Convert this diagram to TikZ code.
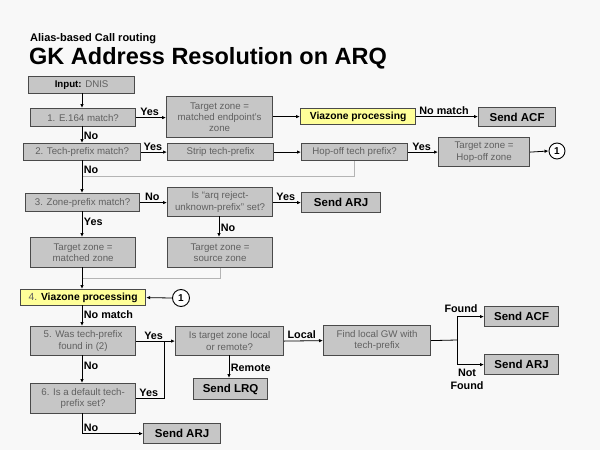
\documentclass[tikz,border=0pt]{standalone}
\usepackage{fontspec}
\setmainfont{Liberation Sans}
\usetikzlibrary{arrows.meta}
\definecolor{bgc}{HTML}{F8F8F8}
\definecolor{boxfill}{HTML}{C6C6C6}
\definecolor{boxline}{HTML}{4A4A4A}
\definecolor{boxtext}{HTML}{606060}
\definecolor{yellowfill}{HTML}{FFFF99}
\definecolor{grayline}{HTML}{B4B4B4}
\begin{document}
\begin{tikzpicture}[x=1pt,y=-1pt,
  box/.style={draw=boxline, fill=boxfill, line width=1.2pt, text=boxtext,
    font=\fontsize{9.7}{11.3}\selectfont, align=center, inner sep=1pt, anchor=north west},
  ybox/.style={box, fill=yellowfill, text=black, font=\bfseries\fontsize{10.3}{12}\selectfont},
  sbox/.style={box, text=black, font=\bfseries\fontsize{11.5}{13}\selectfont},
  circ/.style={circle, draw=black, fill=white, line width=0.9pt, inner sep=0pt,
    minimum size=16pt, font=\bfseries\fontsize{10}{11}\selectfont},
  conn/.style={line width=0.8pt, -{Latex[length=4pt,width=3.5pt]}},
  plain/.style={line width=0.8pt},
  gline/.style={line width=0.9pt, draw=grayline},
  lbl/.style={font=\bfseries\fontsize{10.8}{12}\selectfont, inner sep=1.5pt, text=black}
]
\path[fill=bgc] (0,0) rectangle (600,450);
\useasboundingbox (0,0) rectangle (600,450);

% titles
\node[anchor=base west, inner sep=0pt, font=\bfseries\fontsize{11}{12}\selectfont] (t1) at (30,41) {Alias-based Call routing};
\node[anchor=base west, inner sep=0pt, font=\bfseries\fontsize{23.5}{26}\selectfont] (t2) at (29,64) {GK Address Resolution on ARQ};

% boxes
\node[box, minimum width=106pt, minimum height=17pt] (input) at (28,76) {\textcolor{black}{\bfseries Input:} DNIS};
\node[box, minimum width=105pt, minimum height=18pt] (e164) at (30,108) {1. E.164 match?};
\node[box, minimum width=106pt, minimum height=41pt] (tzme) at (166,96) {Target zone =\\matched endpoint's\\zone};
\node[ybox, minimum width=115pt, minimum height=16pt] (via1) at (300,108) {Viazone processing};
\node[sbox, minimum width=77pt, minimum height=19pt] (acf1) at (478,107) {Send ACF};
\node[box, minimum width=117pt, minimum height=17pt] (tech) at (23,143) {2. Tech-prefix match?};
\node[box, minimum width=106pt, minimum height=17pt] (strip) at (167,143) {Strip tech-prefix};
\node[box, minimum width=106pt, minimum height=17pt] (hop) at (301,143) {Hop-off tech prefix?};
\node[box, minimum width=91pt, minimum height=29pt] (tzho) at (438,137) {Target zone =\\Hop-off zone};
\node[circ] (c1) at (557,151) {1};
\node[box, minimum width=114pt, minimum height=18pt] (zone) at (25,193) {3. Zone-prefix match?};
\node[box, minimum width=105pt, minimum height=29pt] (arq) at (167,187) {Is “arq reject-\\unknown-prefix” set?};
\node[sbox, minimum width=79pt, minimum height=20pt] (arj1) at (301,192) {Send ARJ};
\node[box, minimum width=105pt, minimum height=30pt] (tzmz) at (30,237) {Target zone =\\matched zone};
\node[box, minimum width=105pt, minimum height=30pt] (tzsz) at (167,237) {Target zone =\\source zone};
\node[ybox, minimum width=125pt, minimum height=16pt] (via2) at (20,289) {\textcolor{boxtext}{\mdseries 4.} Viazone processing};
\node[circ, minimum size=17pt] (c2) at (181,298) {1};
\node[box, minimum width=105pt, minimum height=29pt] (q5) at (30,326) {5. Was tech-prefix\\found in (2)};
\node[box, minimum width=105pt, minimum height=30pt] (q6) at (30,383) {6. Is a default tech-\\prefix set?};
\node[sbox, minimum width=77pt, minimum height=20pt] (arj3) at (143,423) {Send ARJ};
\node[box, minimum width=108pt, minimum height=29pt] (loc) at (175,326) {Is target zone local\\or remote?};
\node[sbox, minimum width=74pt, minimum height=21pt] (lrq) at (193,378) {Send LRQ};
\node[box, minimum width=107pt, minimum height=30pt] (gw) at (323,325) {Find local GW with\\tech-prefix};
\node[sbox, minimum width=74pt, minimum height=20pt] (acf2) at (484,306) {Send ACF};
\node[sbox, minimum width=74pt, minimum height=20pt] (arj2) at (484,354) {Send ARJ};

% junction coordinates
\coordinate (j1) at (82,176);
\coordinate (j2) at (82,278);
\coordinate (j3) at (164,340.5);
\coordinate (j4) at (457,340);

% gray joins
\draw[gline] (hop.south) |- (j1);
\draw[gline] (tzsz.south) |- (j2);

% connectors
\draw[conn] (82,93) -- (82,108);
\draw[conn] (e164.east) -- node[lbl, above, pos=0.45] {Yes} (e164.east -| tzme.west);
\draw[conn] (tzme.east |- via1.west) -- (via1.west);
\draw[conn] (via1.east) -- node[lbl, above, pos=0.45] {No match} (via1.east -| acf1.west);
\draw[conn] (82,126) -- node[lbl, right, pos=0.55] {No} (82,143);
\draw[conn] (tech.east) -- node[lbl, above, pos=0.45] {Yes} (strip.west);
\draw[conn] (strip.east) -- (hop.west);
\draw[conn] (hop.east) -- node[lbl, above, pos=0.45] {Yes} (hop.east -| tzho.west);
\draw[conn] (tzho.east) -- (c1.west);
\draw[conn] (82,160) -- node[lbl, right, pos=0.3] {No} (82,193);
\draw[conn] (zone.east) -- node[lbl, above, pos=0.45] {No} (zone.east -| arq.west);
\draw[conn] (arq.east |- arj1.west) -- node[lbl, above, pos=0.45] {Yes} (arj1.west);
\draw[conn] (219,216) -- node[lbl, right, pos=0.55] {No} (219,237);
\draw[conn] (82,211) -- node[lbl, right, pos=0.4] {Yes} (82,237);
\draw[conn] (82,267) -- (82,289);
\draw[conn] (c2.west) -- (via2.east);
\draw[conn] (82,305) -- node[lbl, right, pos=0.45] {No match} (82,326);
\draw[conn] (82,355) -- node[lbl, right, pos=0.4] {No} (82,383);
\draw[conn] (q5.east) -- node[lbl, above, pos=0.45] {Yes} (loc.west);
\draw[plain] (q6.east) -- node[lbl, above, pos=0.45] {Yes} (q6.east -| j3) -- (j3);
\draw[conn] (82,413) |- node[lbl, right, pos=0.35] {No} (arj3.west);
\draw[conn] (loc.east) -- node[lbl, above, pos=0.45] {Local} (gw.west);
\draw[conn] (229,355) -- node[lbl, right, pos=0.55] {Remote} (229,378);
\draw[plain] (gw.east) -- (j4);
\draw[conn] (j4) |- (acf2.west);
\draw[conn] (j4) |- (arj2.west);
\node[lbl, anchor=south] (found) at (461,314) {Found};
\node[lbl, anchor=north, align=center, font=\bfseries\fontsize{10.8}{13.5}\selectfont] (nfound) at (467,367) {Not\\Found};
\end{tikzpicture}
\end{document}
